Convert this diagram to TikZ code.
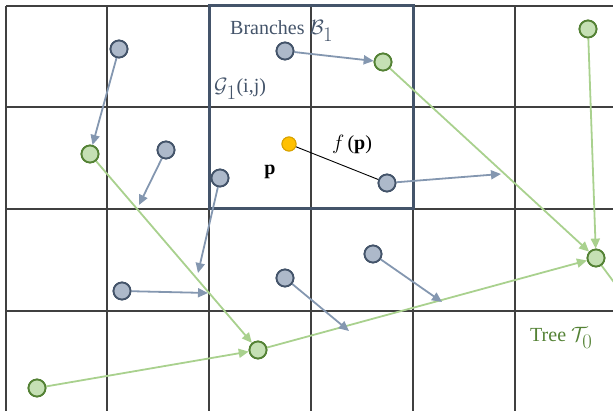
\documentclass[tikz,border=0pt]{standalone}
\usepackage{fontspec}
\setmainfont{Liberation Serif}
\usetikzlibrary{arrows.meta}
\definecolor{bfill}{HTML}{ADB9CA}
\definecolor{bdraw}{HTML}{44546A}
\definecolor{barr}{HTML}{8497B0}
\definecolor{gfill}{HTML}{C5E0B4}
\definecolor{gdraw}{HTML}{548235}
\definecolor{garr}{HTML}{A9D18E}
\definecolor{ofill}{HTML}{FFC000}
\definecolor{odraw}{HTML}{D9A300}
\definecolor{gridc}{HTML}{404040}
\tikzset{
  bnode/.style={circle,fill=bfill,draw=bdraw,line width=1.8pt,minimum size=17pt,inner sep=0pt},
  gnode/.style={circle,fill=gfill,draw=gdraw,line width=1.8pt,minimum size=17pt,inner sep=0pt},
  onode/.style={circle,fill=ofill,draw=odraw,line width=1pt,minimum size=14pt,inner sep=0pt},
  barrow/.style={draw=barr,line width=1.8pt,-{Triangle[length=10pt,width=9pt]}},
  garrow/.style={draw=garr,line width=1.8pt,-{Triangle[length=10pt,width=9pt]}},
  gline/.style={draw=gridc,line width=1.3pt},
  lbl/.style={font=\fontsize{20}{24}\selectfont,inner sep=0pt},
}
\begin{document}
\begin{tikzpicture}[x=1pt,y=-1pt]
\useasboundingbox (0,0) rectangle (613,411);
% grid
\foreach \xx in {6,107,209,311,413,515} \draw[gline] (\xx,6) -- (\xx,411);
\foreach \yy in {6,107,209,311} \draw[gline] (6,\yy) -- (613,\yy);
% highlighted cell
\draw[draw=bdraw,line width=3pt] (209,6) rectangle (413,209);
% blue-gray nodes
\node[bnode] (b1) at (119,49) {};
\node[bnode] (b2) at (166,150) {};
\node[bnode] (b3) at (220,178) {};
\node[bnode] (b4) at (122,291) {};
\node[bnode] (b5) at (285,51) {};
\node[bnode] (b6) at (387,183) {};
\node[bnode] (b7) at (285,278) {};
\node[bnode] (b8) at (373,254) {};
% green nodes
\node[gnode] (g1) at (90,154) {};
\node[gnode] (g2) at (383,62) {};
\node[gnode] (g3) at (588,29) {};
\node[gnode] (g4) at (596,258) {};
\node[gnode] (g5) at (258,350) {};
\node[gnode] (g6) at (37,388) {};
% orange
\node[onode] (o) at (289,144) {};
% free ends
\coordinate (t2) at (139,205);
\coordinate (t3) at (198,273);
\coordinate (t4) at (208,293);
\coordinate (t6) at (501,174);
\coordinate (t7) at (349,331);
\coordinate (t8) at (442,302);
\coordinate (ge) at (616,285);
% green tree edges
\draw[garrow] (g1) -- (g5);
\draw[garrow] (g6) -- (g5);
\draw[garrow] (g5) -- (g4);
\draw[garrow] (g2) -- (g4);
\draw[garrow] (g3) -- (g4);
\draw[draw=garr,line width=1.8pt] (g4) -- (ge);
% blue arrows
\draw[barrow] (b1) -- (g1);
\draw[barrow] (b2) -- (t2);
\draw[barrow] (b3) -- (t3);
\draw[barrow] (b4) -- (t4);
\draw[barrow] (b5) -- (g2);
\draw[barrow] (b6) -- (t6);
\draw[barrow] (b7) -- (t7);
\draw[barrow] (b8) -- (t8);
% f(p)
\draw[black,line width=0.9pt] (o) -- (b6);
% redraw nodes above lines
\foreach \n/\s in {b1/bnode,b2/bnode,b3/bnode,b4/bnode,b5/bnode,b6/bnode,b7/bnode,b8/bnode,g1/gnode,g2/gnode,g3/gnode,g4/gnode,g5/gnode,g6/gnode,o/onode}
  \node[\s] at (\n) {};
% labels
\node[lbl,text=bdraw,anchor=base west] (lb) at (230,35) {Branches $\mathcal{B}_{\textstyle 1}$};
\node[lbl,text=bdraw,anchor=base west] (lg) at (214,93) {$\mathcal{G}_{\textstyle 1}$(i,j)};
\node[lbl,anchor=base] (lp) at (270,175) {\textbf{p}};
\node[lbl,anchor=base] (lf) at (352,150) {$f$\,(\textbf{p})};
\node[lbl,text=gdraw,anchor=base west] (lt) at (530,342) {Tree $\mathcal{T}_{\textstyle 0}$};
\end{tikzpicture}
\end{document}
